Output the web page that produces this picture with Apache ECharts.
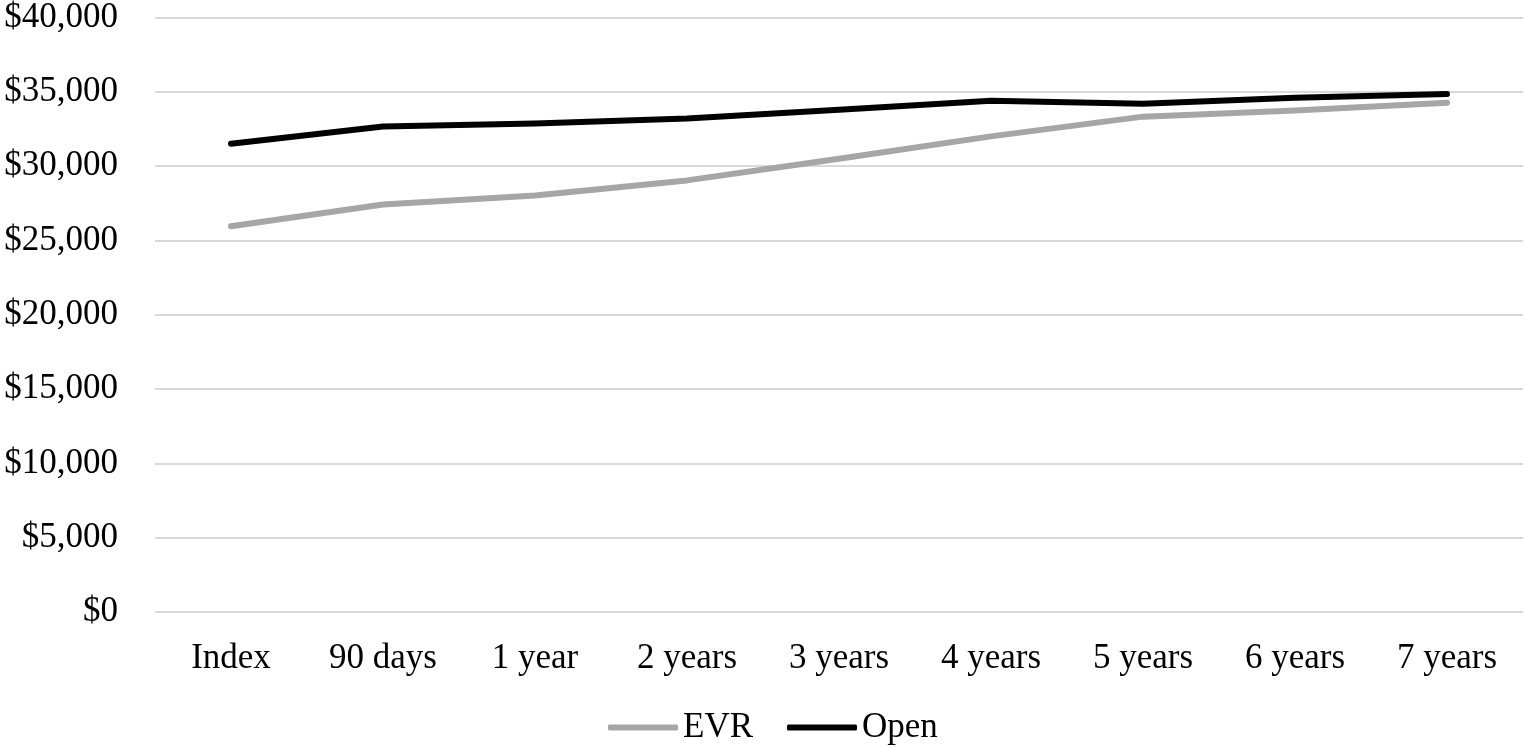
<!DOCTYPE html>
<html><head><meta charset="utf-8">
<script src="https://cdn.jsdelivr.net/npm/echarts@6/dist/echarts.min.js"></script>
<style>html,body{margin:0;padding:0;background:#fff}#c{width:1524px;height:748px}</style>
</head><body><div id="c"></div>
<script>
const categories = ['Index','90 days','1 year','2 years','3 years','4 years','5 years','6 years','7 years'];
const evr = [25950, 27420, 28030, 29040, 30500, 32000, 33330, 33750, 34270];
const open = [31500, 32670, 32870, 33200, 33800, 34400, 34200, 34600, 34850];
const yTicks = [0, 5000, 10000, 15000, 20000, 25000, 30000, 35000, 40000];

const font = 'Liberation Serif';
const chart = echarts.init(document.getElementById('c'));
chart.setOption({
  animation: false,
  grid: {left: 155, right: 1, top: 17, bottom: 136, containLabel: false},
  legend: {
    bottom: -2, left: 603, itemWidth: 70, itemHeight: 6, itemGap: 34,
    icon: 'roundRect',
    textStyle: {fontFamily: font, fontSize: 35, color: '#000'},
    data: ['EVR', 'Open']
  },
  xAxis: {
    type: 'category', data: categories, boundaryGap: true,
    axisLine: {show: false}, axisTick: {show: false},
    axisLabel: {fontFamily: font, fontSize: 35, color: '#000', margin: 29}
  },
  yAxis: {
    type: 'value', min: yTicks[0], max: yTicks[yTicks.length-1], interval: 5000,
    axisLine: {show: false}, axisTick: {show: false},
    splitLine: {lineStyle: {color: '#d9d9d9', width: 2}},
    axisLabel: {fontFamily: font, fontSize: 35, color: '#000', margin: 37,
      formatter: v => '$' + v.toLocaleString('en-US')}
  },
  series: [
    {name: 'EVR', type: 'line', data: evr, symbol: 'none', color: '#a6a6a6',
     lineStyle: {width: 6, color: '#a6a6a6', cap: 'round', join: 'round'}},
    {name: 'Open', type: 'line', data: open, symbol: 'none', color: '#000',
     lineStyle: {width: 6, color: '#000', cap: 'round', join: 'round'}}
  ]
});
</script></body></html>
